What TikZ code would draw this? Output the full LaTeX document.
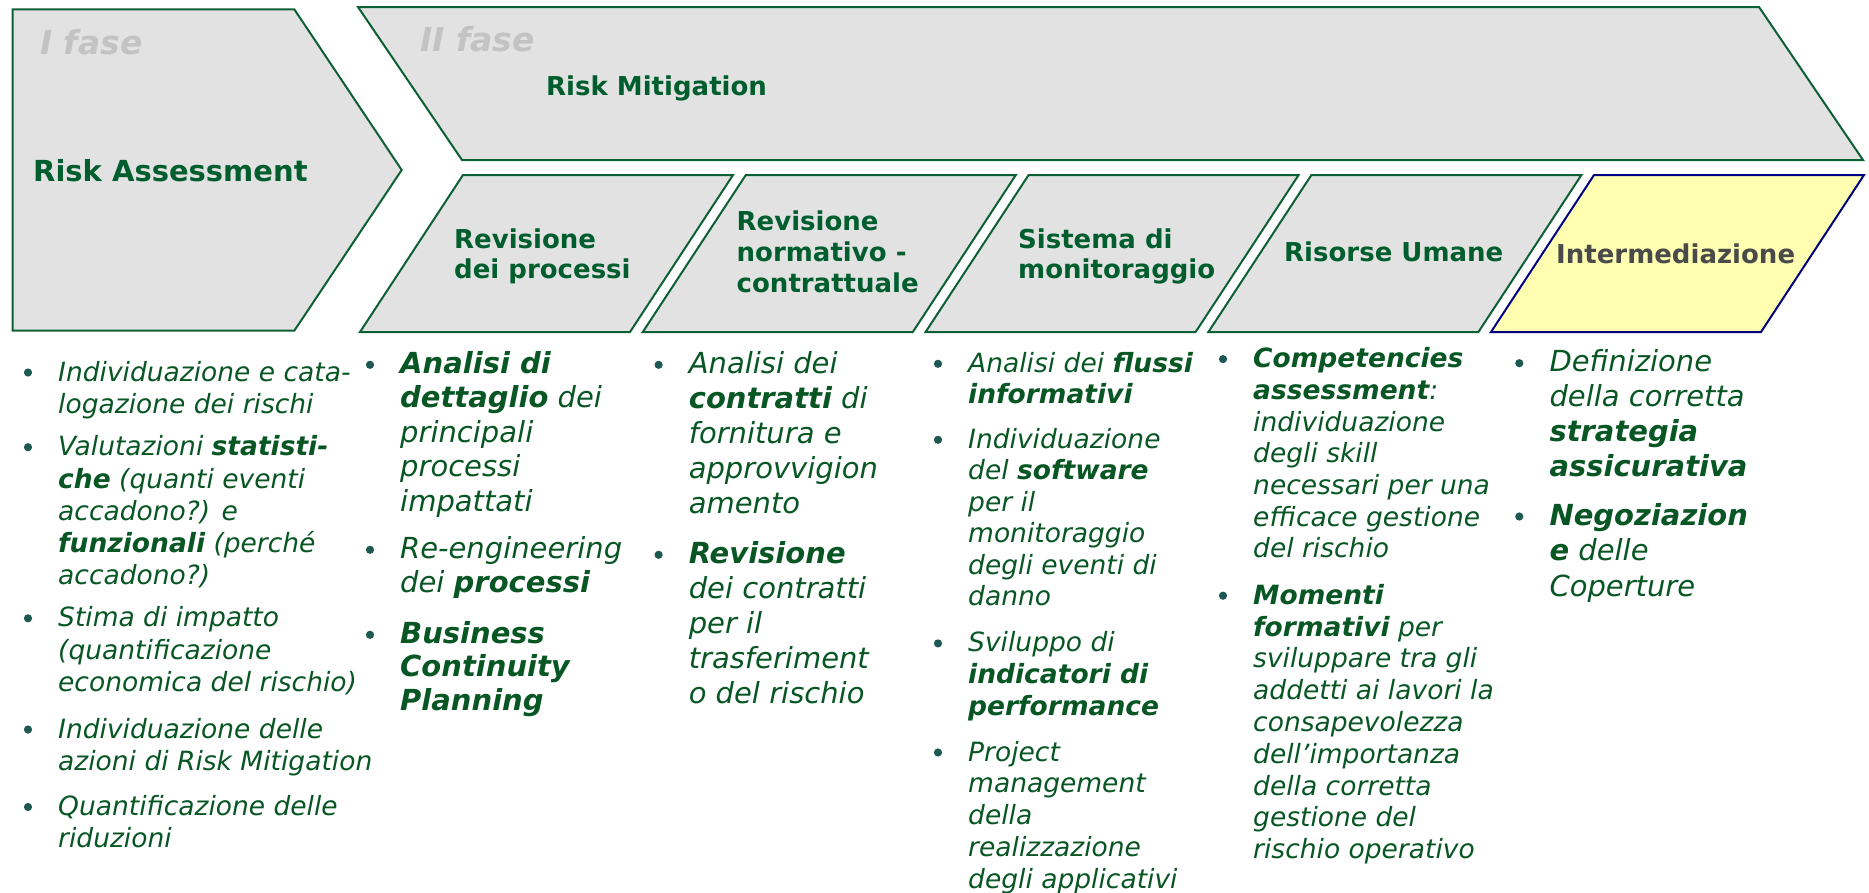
\documentclass[tikz,border=0pt]{standalone}
\usepackage{fontspec}
\setmainfont{DejaVu Sans}
\definecolor{dgreen}{RGB}{0,94,46}
\definecolor{tgreen}{RGB}{8,86,36}
\definecolor{bulc}{RGB}{30,88,82}
\definecolor{boxfill}{RGB}{226,226,226}
\definecolor{boxline}{RGB}{12,96,52}
\definecolor{yfill}{RGB}{255,255,178}
\definecolor{navyline}{RGB}{0,0,128}
\definecolor{phasegrey}{RGB}{195,195,195}
\definecolor{dgrey}{RGB}{74,74,74}
\newcommand\colfontA{\fontsize{26.5}{32}\selectfont\itshape}
\newcommand\colfontB{\fontsize{29}{34}\selectfont\itshape}
\newcommand\bulletitem[6]{%
  \fill[bulc] (#2-30,#3-8.5) circle (4.1);
  \foreach \ln [count=\k] in {#6} {
    \node[body, font=#5] (#1-\k) at (#2,{#3+(\k-1)*#4}) {\ln};
  }%
}
\tikzset{
  shapebox/.style={fill=boxfill, draw=boxline, line width=2pt, line join=miter},
  ybox/.style={fill=yfill, draw=navyline, line width=2pt, line join=miter},
  head/.style={anchor=base west, inner sep=0pt, text=dgreen, font=\fontsize{26}{30}\selectfont\bfseries},
  phasetxt/.style={anchor=base west, inner sep=0pt, text=phasegrey, font=\fontsize{33}{36}\selectfont\bfseries\itshape},
  body/.style={anchor=base west, inner sep=0pt, text=tgreen},
}
\begin{document}
\begin{tikzpicture}[x=1pt,y=-1pt]
\useasboundingbox (0,0) rectangle (1869,892);
% phase shapes
\draw[shapebox] (12.7,9.3) -- (294.3,9.3) -- (401.7,170) -- (294.3,330.7) -- (12.7,330.7) -- cycle;
\draw[shapebox] (358,7) -- (1759,7) -- (1863,160) -- (462,160) -- cycle;
\foreach \i in {0,...,3} {
  \draw[shapebox] ({360+282.8*\i},332) -- ++(270,0) -- ++(103,-157) -- ++(-270,0) -- cycle;
}
\draw[ybox] (1491,332) -- (1761,332) -- (1864,175) -- (1594,175) -- cycle;
% phase titles
\node[phasetxt] (f1) at (40,54) {I fase};
\node[phasetxt] (f2) at (420,51) {II fase};
\node[head, font=\fontsize{29}{32}\selectfont\bfseries] (ra) at (33,181.7) {Risk Assessment};
\node[head] (rm) at (546,95) {Risk Mitigation};
% sub headers
\node[head] (h1a) at (454,248) {Revisione};
\node[head] (h1b) at (454,278) {dei processi};
\node[head] (h2a) at (736.5,230) {Revisione};
\node[head] (h2b) at (736.5,261) {normativo -};
\node[head] (h2c) at (736.5,292) {contrattuale};
\node[head] (h3a) at (1018,248) {Sistema di};
\node[head] (h3b) at (1018,278) {monitoraggio};
\node[head] (h4) at (1284,261.7) {Risorse Umane};
\node[head, text=dgrey] (h5) at (1556,263.3) {Intermediazione};
% column 1
\bulletitem{c1a}{58}{381}{32.3}{\colfontA}{{Individuazione e cata-},{logazione dei rischi}}
\bulletitem{c1b}{58}{455.7}{32.3}{\colfontA}{{Valutazioni \textbf{statisti-}},{\textbf{che} (quanti eventi},{accadono?) e},{\textbf{funzionali} (perché},{accadono?)}}
\bulletitem{c1c}{58}{626.8}{32.3}{\colfontA}{{Stima di impatto},{(quantificazione},{economica del rischio)}}
\bulletitem{c1d}{58}{738}{32.3}{\colfontA}{{Individuazione delle},{azioni di Risk Mitigation}}
\bulletitem{c1e}{58}{815.5}{32.3}{\colfontA}{{Quantificazione delle},{riduzioni}}
% column 2
\bulletitem{c2a}{400}{373.3}{34.5}{\colfontB}{{\textbf{Analisi di}},{\textbf{dettaglio} dei},{principali},{processi},{impattati}}
\bulletitem{c2b}{400}{558.3}{34.5}{\colfontB}{{Re-engineering},{dei \textbf{processi}}}
\bulletitem{c2c}{400}{643.3}{33.5}{\colfontB}{{\textbf{Business}},{\textbf{Continuity}},{\textbf{Planning}}}
% column 3
\bulletitem{c3a}{688.6}{373.3}{35}{\colfontB}{{Analisi dei},{\textbf{contratti} di},{fornitura e},{approvvigion},{amento}}
\bulletitem{c3b}{688.6}{563.3}{35}{\colfontB}{{\textbf{Revisione}},{dei contratti},{per il},{trasferiment},{o del rischio}}
% column 4
\bulletitem{c4a}{968}{372.3}{31.5}{\colfontA}{{Analisi dei \textbf{flussi}},{\textbf{informativi}}}
\bulletitem{c4b}{968}{448.3}{31.5}{\colfontA}{{Individuazione},{del \textbf{software}},{per il},{monitoraggio},{degli eventi di},{danno}}
\bulletitem{c4c}{968}{651.9}{31.7}{\colfontA}{{Sviluppo di},{\textbf{indicatori di}},{\textbf{performance}}}
\bulletitem{c4d}{968}{761}{31.8}{\colfontA}{{Project},{management},{della},{realizzazione},{degli applicativi}}
% column 5
\bulletitem{c5a}{1253}{367.6}{31.7}{\colfontA}{{\textbf{Competencies}},{\textbf{assessment}:},{individuazione},{degli skill},{necessari per una},{efficace gestione},{del rischio}}
\bulletitem{c5b}{1253}{604.2}{31.8}{\colfontA}{{\textbf{Momenti}},{\textbf{formativi} per},{sviluppare tra gli},{addetti ai lavori la},{consapevolezza},{dell’importanza},{della corretta},{gestione del},{rischio operativo}}
% column 6
\bulletitem{c6a}{1549.3}{371.7}{35}{\colfontB}{{Definizione},{della corretta},{\textbf{strategia}},{\textbf{assicurativa}}}
\bulletitem{c6b}{1549.3}{525}{35.5}{\colfontB}{{\textbf{Negoziazion}},{\textbf{e} delle},{Coperture}}
\end{tikzpicture}
\end{document}
